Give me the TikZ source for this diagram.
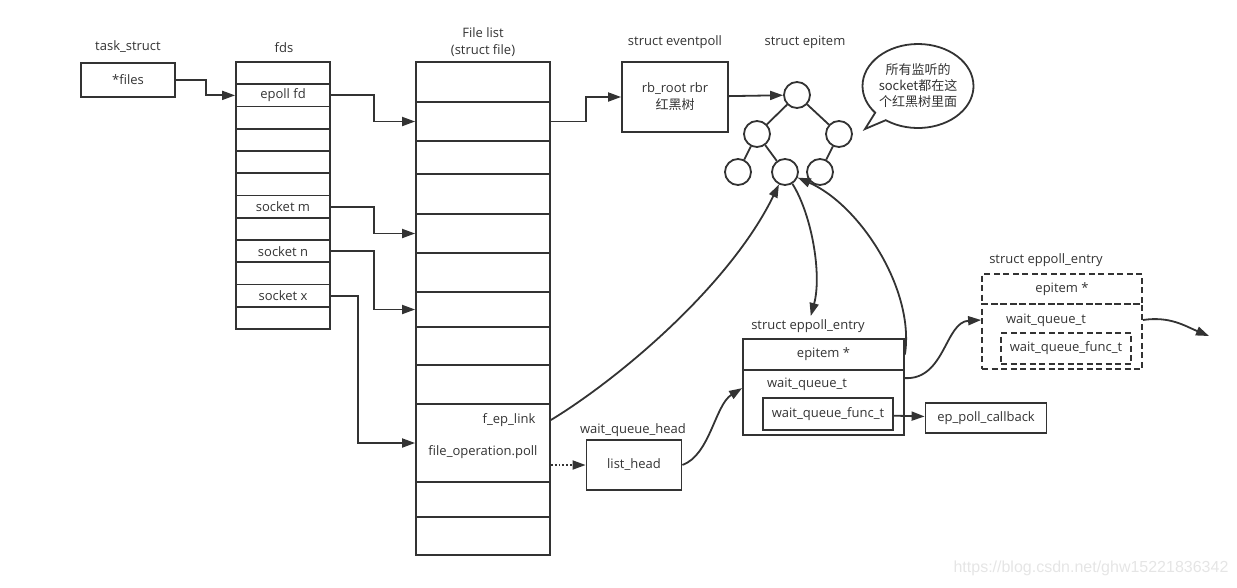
\documentclass[tikz,border=0pt]{standalone}
\usepackage{fontspec}
\setmainfont{Open Sans}
\newfontfamily\cjk{Noto Sans CJK SC}
\newfontfamily\wmfont{Liberation Sans}
\usetikzlibrary{arrows.meta,shapes.callouts}

\begin{document}
\begin{tikzpicture}[x=1pt,y=-1pt,
	every node/.style={font=\fontsize{13}{17}\selectfont, text=black!80},
	box/.style={draw=black!80, line width=1.8pt, inner sep=0pt},
	dbox/.style={box, dash pattern=on 6pt off 3.5pt},
	ball/.style={draw=black!80, line width=1.8pt, circle, minimum size=26pt, inner sep=0pt},
	wire/.style={draw=black!80, line width=1.8pt},
	arr/.style={wire, -{Triangle[length=13pt,width=9pt]}}]
\useasboundingbox (0,0) rectangle (1237,587);

\node (ts) at (128,47) {task\_struct};
\node[box, minimum width=94pt, minimum height=34pt] (files) at (128,80) {*files};

\node (fdl) at (284,48) {fds};
\foreach \i/\t in {1/,2/epoll fd,3/,4/,5/,6/,7/socket m,8/,9/socket n,10/,11/socket x,12/}
	\node[box, minimum width=94pt, minimum height=22.25pt] (d\i) at (283,{62+22.25*(\i-0.5)}) {\t};

\node[align=center] (fl) at (483,42) {File list\\(struct file)};
\foreach \i/\ya/\yb in {1/62/102,2/102/141,3/141/174,4/174/214,5/214/253,6/253/292,
		7/292/327,8/327/365,9/365/404,10/404/482,11/482/517,12/517/555}
	\node[box, minimum width=134pt, minimum height={\yb-\ya}] (f\i) at (483,{(\ya+\yb)/2}) {};
\node (link) at (509,420) {f\_ep\_link};
\node (poll) at (483,452) {file\_operation.poll};

\node (epl) at (675,42) {struct eventpoll};
\node[box, minimum width=106pt, minimum height=70pt, align=center] (ep) at (675,97)
	{rb\_root rbr\\{\cjk 红黑树}};

\node (eil) at (805,42) {struct epitem};
\node[ball] (1) at (797,95) {};
\node[ball] (21) at (757,134) {};
\node[ball] (22) at (839,134) {};
\node[ball] (31) at (738,172) {};
\node[ball] (32) at (785,172) {};
\node[ball] (33) at (820,172) {};
\draw[wire] (1) -- (21) (1) -- (22) (21) -- (31) (21) -- (32) (22) -- (33);

\node[draw=black!80, line width=1.8pt, ellipse callout, minimum width=108pt, minimum height=84pt,
	inner sep=0pt, callout absolute pointer={(865,129)}, align=center,
	font=\cjk\fontsize{13}{16}\selectfont] (note) at (918,86)
	{所有监听的\\socket都在这\\个红黑树里面};

\node (whl) at (633,430) {wait\_queue\_head};
\node[box, minimum width=95pt, minimum height=50pt] (lh) at (634,465) {list\_head};

\node (e1lab) at (808,326) {struct eppoll\_entry};
\node[box, minimum width=161pt, minimum height=31pt] (e1top) at (823.5,354.5) {epitem *};
\node[box, minimum width=161pt, minimum height=65pt] (e1bot) at (823.5,402.5) {};
\node (e1wq) at (807,384) {wait\_queue\_t};
\node[box, minimum width=130pt, minimum height=32pt] (e1fn) at (828,414) {wait\_queue\_func\_t};
\node[box, minimum width=121pt, minimum height=30pt] (cb) at (986,418) {ep\_poll\_callback};

\node (e2lab) at (1046,260) {struct eppoll\_entry};
\node[dbox, minimum width=160pt, minimum height=30pt] (e2top) at (1062,289) {epitem *};
\node[dbox, minimum width=160pt, minimum height=65pt] (e2bot) at (1062,336.5) {};
\node (e2wq) at (1046,320) {wait\_queue\_t};
\node[dbox, minimum width=130pt, minimum height=31pt] (e2fn) at (1066,348.5) {wait\_queue\_func\_t};
\coordinate (next) at (1209,336);

\draw[arr] (files.east) -- ++(30,0) |- (d2);
\draw[arr] (d2.east) -- ++(43,0) |- (f2);
\draw[arr] (d7.east) -- ++(43,0) |- (f5);
\draw[arr] (d9.east) -- ++(43,0) |- (f7);
\draw[arr] (d11.east) -- ++(27,0) |- (f10);
\draw[arr] (f2.east) -- ++(35,0) |- (ep);
\draw[arr] (ep) -- (1);
\draw[arr] (f10.east |- link) .. controls (620,378) and (730,285) .. (32);
\draw[arr] (32) .. controls (812,215) and (822,275) .. (e1lab);
\draw[arr] (e1top.east) .. controls (915,290) and (860,205) .. (32);
\draw[arr, dotted] (f10.east |- lh) -- (lh);
\draw[arr] (lh.east) .. controls (710,455) and (715,405) .. (e1bot.170);
\draw[arr] (e1fn) -- (cb);
\draw[arr] ([yshift=-9pt]e1bot.north east) .. controls (945,380) and (945,322) .. (e2bot.west |- e2wq);
\draw[arr] (e2bot.east |- e2wq) .. controls (1170,316) and (1185,326) .. (next);

\node[font=\wmfont\fontsize{16}{18}\selectfont, text=black!10] (wm) at (1091,568)
	{https://blog.csdn.net/ghw15221836342};
\end{tikzpicture}
\end{document}
